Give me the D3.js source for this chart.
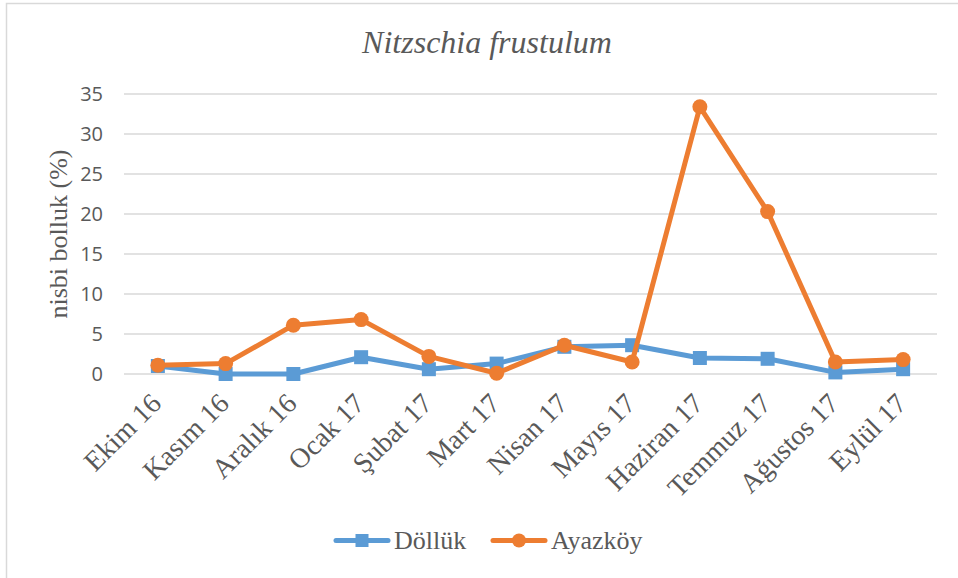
<!DOCTYPE html>
<html>
<head>
<meta charset="utf-8">
<script src="https://cdn.jsdelivr.net/npm/d3@7"></script>
<style>
  body { margin: 0; background: #fff; }
  svg { display: block; }
</style>
</head>
<body>
<div class="chart"></div>
<script>
// data
var months = ["Ekim 16", "Kasım 16", "Aralık 16", "Ocak 17", "Şubat 17", "Mart 17",
  "Nisan 17", "Mayıs 17", "Haziran 17", "Temmuz 17", "Ağustos 17", "Eylül 17"];
var dolluk = [1.0, 0.0, 0.0, 2.1, 0.6, 1.3, 3.4, 3.6, 2.0, 1.9, 0.2, 0.6];
var ayazkoy = [1.1, 1.3, 6.1, 6.8, 2.2, 0.1, 3.6, 1.5, 33.4, 20.3, 1.5, 1.8];
var yTicks = [0, 5, 10, 15, 20, 25, 30, 35];

var serif = "'Liberation Serif'";
var sans = "'Open Sans'";

var svgWidth = 958;
var svgHeight = 578;

var margin = { top: 94, right: 21, bottom: 204, left: 124 };
var width = svgWidth - margin.left - margin.right;
var height = svgHeight - margin.top - margin.bottom;

var svg = d3.select(".chart")
  .append("svg")
  .attr("width", svgWidth)
  .attr("height", svgHeight);

// outer chart frame
svg.append("rect")
  .attr("x", 6.5).attr("y", 3.5)
  .attr("width", 980).attr("height", 600)
  .attr("fill", "none")
  .attr("stroke", "#d9d9d9")
  .attr("stroke-width", 1.5);

var chartGroup = svg.append("g")
  .attr("transform", `translate(${margin.left}, ${margin.top})`);

var x = d3.scaleBand()
  .domain(months)
  .range([0, width]);

var y = d3.scaleLinear()
  .domain([0, 35])
  .range([height, 0]);

// gridlines
chartGroup.selectAll(".grid")
  .data(yTicks)
  .enter()
  .append("line")
  .attr("x1", 0)
  .attr("x2", width)
  .attr("y1", d => y(d))
  .attr("y2", d => y(d))
  .attr("stroke", "#d9d9d9")
  .attr("stroke-width", 1.5);

// y axis labels
var leftAxis = d3.axisLeft(y).tickValues(yTicks).tickSize(0).tickPadding(21);
var yAxis = chartGroup.append("g").call(leftAxis);
yAxis.select(".domain").remove();
yAxis.selectAll("text")
  .style("font-family", sans)
  .style("font-size", "20px")
  .attr("fill", "#595959");

// x axis labels
var bottomAxis = d3.axisBottom(x).tickSize(0).tickPadding(0);
var xAxis = chartGroup.append("g")
  .attr("transform", `translate(0, ${height})`)
  .call(bottomAxis);
xAxis.select(".domain").remove();
xAxis.selectAll("text")
  .style("font-family", serif)
  .style("font-size", "28px")
  .attr("fill", "#595959")
  .attr("text-anchor", "end")
  .attr("dy", "0")
  .attr("transform", "translate(5, 31) rotate(-45)");

// title
svg.append("text")
  .attr("x", 487)
  .attr("y", 53)
  .attr("text-anchor", "middle")
  .style("font-family", serif)
  .style("font-style", "italic")
  .style("font-size", "32px")
  .attr("fill", "#595959")
  .text("Nitzschia frustulum");

// y axis title
svg.append("text")
  .attr("transform", "translate(67, 234) rotate(-90)")
  .attr("text-anchor", "middle")
  .style("font-family", serif)
  .style("font-size", "26px")
  .attr("fill", "#595959")
  .text("nisbi bolluk (%)");

var line = d3.line()
  .x((d, i) => x(months[i]) + x.bandwidth() / 2)
  .y(d => y(d));

var blue = "#5b9bd5";
var orange = "#ed7d31";

// Döllük
chartGroup.append("path")
  .datum(dolluk)
  .attr("d", line)
  .attr("fill", "none")
  .attr("stroke", blue)
  .attr("stroke-width", 5)
  .attr("stroke-linejoin", "round")
  .attr("stroke-linecap", "round");

chartGroup.selectAll(".sq")
  .data(dolluk)
  .enter()
  .append("rect")
  .attr("x", (d, i) => x(months[i]) + x.bandwidth() / 2 - 7)
  .attr("y", d => y(d) - 7)
  .attr("width", 14)
  .attr("height", 14)
  .attr("fill", blue);

// Ayazköy
chartGroup.append("path")
  .datum(ayazkoy)
  .attr("d", line)
  .attr("fill", "none")
  .attr("stroke", orange)
  .attr("stroke-width", 5)
  .attr("stroke-linejoin", "round")
  .attr("stroke-linecap", "round");

chartGroup.selectAll(".dot")
  .data(ayazkoy)
  .enter()
  .append("circle")
  .attr("cx", (d, i) => x(months[i]) + x.bandwidth() / 2)
  .attr("cy", d => y(d))
  .attr("r", 7.5)
  .attr("fill", orange);

// legend
var legend = svg.append("g").attr("transform", "translate(0, 540.5)");
var items = [
  { name: "Döllük", color: blue, shape: "square", x: 336 },
  { name: "Ayazköy", color: orange, shape: "circle", x: 493 }
];
items.forEach(function(it) {
  var g = legend.append("g").attr("transform", `translate(${it.x}, 0)`);
  g.append("line")
    .attr("x1", 0).attr("x2", 52)
    .attr("stroke", it.color)
    .attr("stroke-width", 5)
    .attr("stroke-linecap", "round");
  if (it.shape === "square") {
    g.append("rect").attr("x", 19.5).attr("y", -6.5).attr("width", 13).attr("height", 13).attr("fill", it.color);
  } else {
    g.append("circle").attr("cx", 26).attr("cy", 0).attr("r", 7).attr("fill", it.color);
  }
  g.append("text")
    .attr("x", 58)
    .attr("y", 8.5)
    .style("font-family", serif)
    .style("font-size", "26px")
    .attr("fill", "#595959")
    .text(it.name);
});
</script>
</body>
</html>
